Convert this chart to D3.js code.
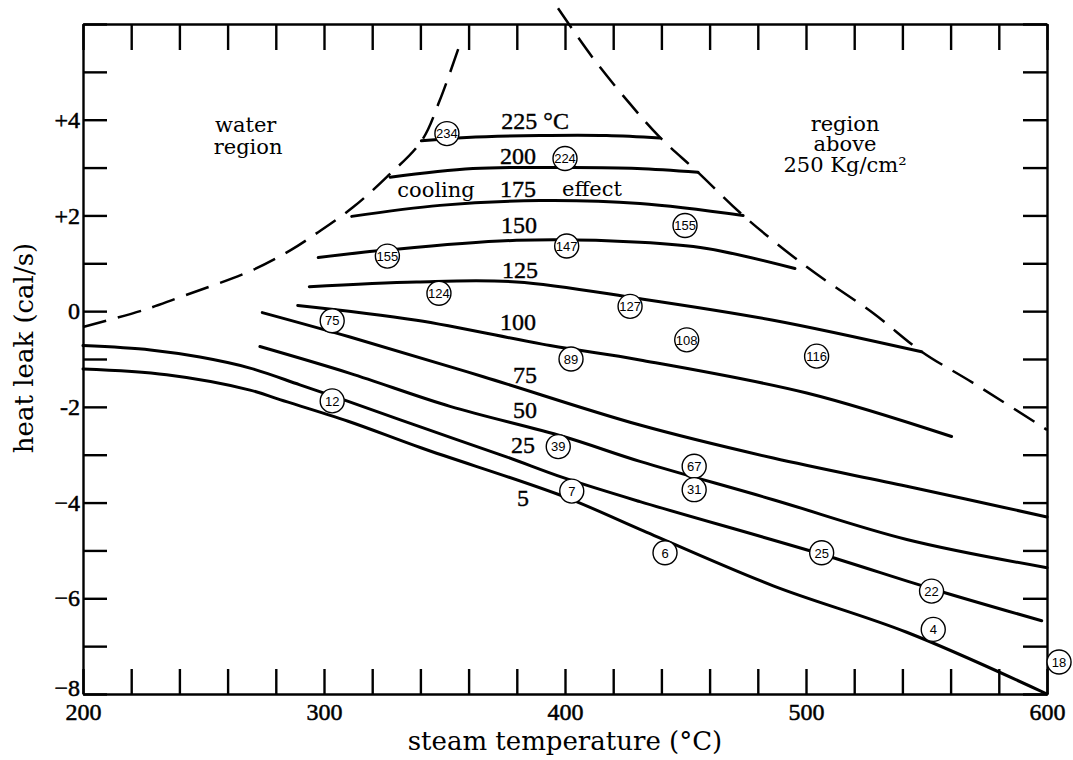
<!DOCTYPE html>
<html>
<head>
<meta charset="utf-8">
<script src="https://cdn.jsdelivr.net/npm/d3@7"></script>
<style>
body { margin: 0; background: #fff; }
svg text { fill: #000; }
.curve { fill: none; stroke: #000; stroke-width: 3; stroke-linecap: round; }
.dash { fill: none; stroke: #000; stroke-width: 2.5; stroke-dasharray: 24,12; }
.axis path, .axis line { stroke: #000; stroke-width: 2.4; }
.axis text { font-family: "Liberation Serif", serif; font-size: 24px; stroke: #000; stroke-width: 0.5; }
.num { font-family: "Liberation Serif", serif; font-size: 24px; stroke: #000; stroke-width: 0.4; }
.word { font-family: "DejaVu Serif", serif; font-size: 21px; }
.title { font-family: "DejaVu Serif", serif; font-size: 26px; }
.mark circle { fill: #fff; stroke: #000; stroke-width: 1.4; }
.mark text { font-family: "Liberation Sans Narrow", "Liberation Sans", sans-serif; font-size: 13px; }
</style>
</head>
<body>
<div id="chart"></div>
<script>
// heat leak (cal/s) vs steam temperature (C), one curve per water temperature
var c225 = [[340.4, 3.56], [359.2, 3.63], [389.6, 3.67], [417.3, 3.67], [439.4, 3.62]];
var c200 = [[327.4, 2.80], [361.8, 2.98], [403.3, 3.00], [430.0, 2.98], [455.2, 2.90]];
var c175 = [[311.5, 1.98], [348.1, 2.21], [389.6, 2.31], [431.1, 2.25], [473.9, 2.00]];
var c150 = [[297.6, 1.12], [324.6, 1.27], [379.9, 1.48], [431.1, 1.44], [458.8, 1.31], [495.4, 0.89]];
var c125 = [[293.9, 0.51], [338.4, 0.61], [379.9, 0.61], [431.1, 0.26], [486.4, -0.19], [548.0, -0.85]];
var c100 = [[289.1, 0.12], [338.4, -0.19], [393.8, -0.72], [431.1, -1.02], [500.3, -1.71], [560.4, -2.62]];
var c75 = [[274.4, -0.03], [310.8, -0.54], [366.1, -1.37], [431.1, -2.38], [486.4, -3.07], [541.8, -3.66], [600, -4.30]];
var c50 = [[273.4, -0.74], [310.8, -1.30], [352.3, -1.99], [399.3, -2.62], [431.1, -3.14], [486.4, -3.94], [541.8, -4.77], [600, -5.36]];
var c25 = [[200, -0.72], [228, -0.81], [248.5, -0.96], [269.3, -1.19], [290, -1.54], [308, -1.85], [340, -2.42],
           [376, -3.05], [399.3, -3.48], [431.1, -3.98], [506.5, -5.08], [552.1, -5.80], [597.8, -6.47]];
var c5 = [[200, -1.21], [234.7, -1.33], [269.3, -1.65], [281.7, -1.85], [310, -2.30], [340.5, -2.86],
          [399.3, -3.87], [431.1, -4.56], [486.4, -5.74], [541.8, -6.71], [600, -8.0]];
var curves = [c225, c200, c175, c150, c125, c100, c75, c50, c25, c5];

// dashed boundaries
var leftBound = [[200, -0.33], [225, 0.02], [239, 0.27], [270, 0.85], [286, 1.27], [297, 1.63], [312, 2.17],
                 [326, 2.80], [340.5, 3.56], [348, 4.40], [356.4, 5.58]];
var rightBound = [[397.1, 6.33], [411.6, 5.29], [427, 4.33], [439.4, 3.63], [455.2, 2.90], [473.9, 2.0],
                  [500.4, 0.92], [527.8, -0.04], [548.1, -0.85], [569.3, -1.5], [600, -2.48]];

// curve labels
var curveLabels = ["225 °C", "200", "175", "150", "125", "100", "75", "50", "25", "5"];
var curveLabelAt = [[387.6, 3.81], [380.5, 3.08], [380.5, 2.375], [380.9, 1.625], [381.3, 0.69],
                    [380.5, -0.40], [383.4, -1.50], [383.4, -2.23], [382.6, -2.96], [382.6, -4.08]];

// circled numbers
var markLabels = ["234", "224", "155", "155", "147", "124", "127", "75", "89", "108", "116",
                  "12", "39", "7", "67", "31", "6", "25", "22", "4", "18"];
var markAt = [[351.0, 3.71], [400.0, 3.19], [449.8, 1.79], [326.3, 1.15], [400.7, 1.36], [347.7, 0.375],
              [427.0, 0.10], [303.4, -0.20], [402.5, -1.0], [450.5, -0.60], [504.4, -0.94],
              [303.4, -1.875], [397.2, -2.83], [402.8, -3.76], [453.6, -3.24], [453.6, -3.73],
              [441.5, -5.05], [506.5, -5.05], [552.1, -5.85], [552.8, -6.65], [605.0, -7.33]];

// region notes
var notes = [["water", 267.5, 3.75], ["region", 268.5, 3.29], ["cooling", 346.5, 2.375], ["effect", 411.2, 2.40],
             ["region", 516.2, 3.77], ["above", 516.2, 3.34], ["250 Kg/cm²", 516.2, 2.91]];

var xMajor = [200, 300, 400, 500, 600];
var yMajor = [-8, -6, -4, -2, 0, 2, 4];
var yLabels = ["−8", "−6", "−4", "-2", "0", "+2", "+4"];

var svg = d3.select("#chart").append("svg")
    .attr("width", 1073)
    .attr("height", 760);

var margin = {top: 24, right: 26, bottom: 66, left: 83},
    width = 1073 - margin.left - margin.right,
    height = 760 - margin.top - margin.bottom;

var x = d3.scaleLinear().domain([200, 600]).range([0, width]),
    y = d3.scaleLinear().domain([-8, 6]).range([height, 0]);

var g = svg.append("g")
    .attr("transform", "translate(" + margin.left + "," + margin.top + ")");

var xTicks = d3.range(200, 601, 20),
    yTicks = d3.range(-8, 7, 1);

g.append("g")
    .attr("class", "axis")
    .attr("transform", "translate(0," + height + ")")
    .call(d3.axisBottom(x).tickValues(xTicks).tickSizeInner(-25).tickSizeOuter(0).tickPadding(9)
        .tickFormat(function (d) { return xMajor.indexOf(d) >= 0 ? d : ""; }));

g.append("g")
    .attr("class", "axis")
    .call(d3.axisTop(x).tickValues(xTicks).tickSizeInner(-26).tickSizeOuter(0).tickFormat(""));

var yAxisG = g.append("g")
    .attr("class", "axis")
    .call(d3.axisLeft(y).tickValues(yTicks).tickSizeInner(-24).tickSizeOuter(0).tickPadding(3)
        .tickFormat(function (d) { var i = yMajor.indexOf(d); return i >= 0 ? yLabels[i] : ""; }));

// the bottom label sits a little above its tick in the original
yAxisG.selectAll(".tick text")
    .filter(function (d) { return d === -8; })
    .attr("y", -6);

g.append("g")
    .attr("class", "axis")
    .attr("transform", "translate(" + width + ",0)")
    .call(d3.axisRight(y).tickValues(yTicks).tickSizeInner(-24).tickSizeOuter(0).tickFormat(""));

g.selectAll(".axis text").attr("fill", "#000");

var line = d3.line()
    .x(function (d) { return x(d[0]); })
    .y(function (d) { return y(d[1]); })
    .curve(d3.curveCatmullRom.alpha(0.5));

g.selectAll(".dash")
    .data([leftBound, rightBound])
    .enter().append("path")
    .attr("class", "dash")
    .attr("d", line);

g.selectAll(".curve")
    .data(curves)
    .enter().append("path")
    .attr("class", "curve")
    .attr("d", line);

g.selectAll(".clabel")
    .data(curveLabels)
    .enter().append("text")
    .attr("class", "num")
    .attr("x", function (d, i) { return x(curveLabelAt[i][0]); })
    .attr("y", function (d, i) { return y(curveLabelAt[i][1]); })
    .attr("text-anchor", "middle")
    .text(function (d) { return d; });

g.selectAll(".note")
    .data(notes)
    .enter().append("text")
    .attr("class", "word")
    .attr("x", function (d) { return x(d[1]); })
    .attr("y", function (d) { return y(d[2]); })
    .attr("text-anchor", "middle")
    .text(function (d) { return d[0]; });

var mark = g.selectAll(".mark")
    .data(markLabels)
    .enter().append("g")
    .attr("class", "mark")
    .attr("transform", function (d, i) { return "translate(" + x(markAt[i][0]) + "," + y(markAt[i][1]) + ")"; });

mark.append("circle").attr("r", 12);
mark.append("text")
    .attr("text-anchor", "middle")
    .attr("dy", "0.36em")
    .text(function (d) { return d; });

// axis titles
svg.append("text")
    .attr("class", "title")
    .attr("x", margin.left + width / 2)
    .attr("y", 750)
    .attr("text-anchor", "middle")
    .text("steam temperature (°C)");

svg.append("text")
    .attr("class", "title")
    .attr("transform", "translate(33," + 348 + ") rotate(-90)")
    .attr("text-anchor", "middle")
    .text("heat leak (cal/s)");
</script>
</body>
</html>
